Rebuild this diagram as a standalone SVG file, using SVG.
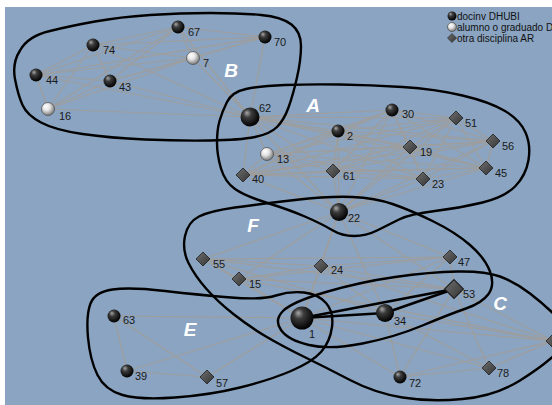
<svg xmlns="http://www.w3.org/2000/svg" xmlns:xlink="http://www.w3.org/1999/xlink" width="552" height="405" viewBox="0 0 552 405">
<style>
.e{stroke:#9e9e9e;stroke-width:1.25;fill:none}
.t{stroke:#000;stroke-width:2.4;fill:none}
.grp{fill:none;stroke:#000;stroke-width:2.4;stroke-linejoin:round}
.lbl{font-family:"Liberation Sans",Arial,sans-serif;font-size:11px;fill:#1a1a1a}
.leg{font-family:"Liberation Sans",Arial,sans-serif;font-size:10px;fill:#111}
.gl{font-family:"Liberation Sans",Arial,sans-serif;font-size:19px;font-style:italic;font-weight:bold;fill:#fff;text-anchor:middle}
.dk{fill:url(#gb)}
.wh{fill:url(#gw);stroke:#3a3a3a;stroke-width:0.6}
.dm{fill:url(#gd);stroke:#1e1e1e;stroke-width:0.8}
</style>
<defs>
<radialGradient id="gb" cx="0.42" cy="0.38" r="0.62" fx="0.33" fy="0.28">
<stop offset="0" stop-color="#a8a8a8"/>
<stop offset="0.35" stop-color="#3c3c3c"/>
<stop offset="1" stop-color="#000"/>
</radialGradient>
<radialGradient id="gw" cx="0.42" cy="0.38" r="0.62" fx="0.33" fy="0.28">
<stop offset="0" stop-color="#fff"/>
<stop offset="0.45" stop-color="#e6e6e6"/>
<stop offset="1" stop-color="#7a7a7a"/>
</radialGradient>
<linearGradient id="gd" x1="0" y1="0" x2="1" y2="1">
<stop offset="0" stop-color="#707070"/>
<stop offset="1" stop-color="#333"/>
</linearGradient>
<path id="dia" d="M0,-7L7,0L0,7L-7,0Z"/>
</defs>
<rect x="0" y="0" width="552" height="405" fill="#fff"/>
<rect x="5" y="7" width="547" height="398" fill="#8aa4c1"/>
<g id="connectors">
<g class="e">
<line x1="178" y1="27" x2="93" y2="45"/><line x1="178" y1="27" x2="265" y2="37"/><line x1="178" y1="27" x2="193" y2="58"/><line x1="178" y1="27" x2="110" y2="81"/><line x1="178" y1="27" x2="48" y2="109"/><line x1="178" y1="27" x2="36" y2="75"/><line x1="178" y1="27" x2="250" y2="117"/>
<line x1="93" y1="45" x2="36" y2="75"/><line x1="93" y1="45" x2="110" y2="81"/><line x1="93" y1="45" x2="48" y2="109"/><line x1="93" y1="45" x2="193" y2="58"/><line x1="93" y1="45" x2="265" y2="37"/><line x1="93" y1="45" x2="250" y2="117"/>
<line x1="265" y1="37" x2="193" y2="58"/><line x1="265" y1="37" x2="36" y2="75"/><line x1="265" y1="37" x2="110" y2="81"/><line x1="265" y1="37" x2="250" y2="117"/>
<line x1="193" y1="58" x2="36" y2="75"/><line x1="193" y1="58" x2="110" y2="81"/><line x1="193" y1="58" x2="48" y2="109"/><line x1="193" y1="58" x2="250" y2="117"/>
<line x1="36" y1="75" x2="110" y2="81"/><line x1="36" y1="75" x2="48" y2="109"/><line x1="36" y1="75" x2="250" y2="117"/>
<line x1="110" y1="81" x2="48" y2="109"/><line x1="110" y1="81" x2="250" y2="117"/><line x1="48" y1="109" x2="250" y2="117"/>
<line x1="250" y1="117" x2="392" y2="110"/><line x1="250" y1="117" x2="456" y2="118"/><line x1="250" y1="117" x2="338" y2="131"/><line x1="250" y1="117" x2="493" y2="141"/><line x1="250" y1="117" x2="410" y2="147"/><line x1="250" y1="117" x2="267" y2="154"/><line x1="250" y1="117" x2="486" y2="168"/><line x1="250" y1="117" x2="243" y2="175"/><line x1="250" y1="117" x2="333" y2="171"/><line x1="250" y1="117" x2="423" y2="179"/><line x1="250" y1="117" x2="339" y2="212"/>
<line x1="392" y1="110" x2="456" y2="118"/><line x1="392" y1="110" x2="338" y2="131"/><line x1="392" y1="110" x2="493" y2="141"/><line x1="392" y1="110" x2="410" y2="147"/><line x1="392" y1="110" x2="267" y2="154"/><line x1="392" y1="110" x2="486" y2="168"/><line x1="392" y1="110" x2="243" y2="175"/><line x1="392" y1="110" x2="333" y2="171"/><line x1="392" y1="110" x2="423" y2="179"/><line x1="392" y1="110" x2="339" y2="212"/>
<line x1="456" y1="118" x2="338" y2="131"/><line x1="456" y1="118" x2="493" y2="141"/><line x1="456" y1="118" x2="410" y2="147"/><line x1="456" y1="118" x2="267" y2="154"/><line x1="456" y1="118" x2="486" y2="168"/><line x1="456" y1="118" x2="243" y2="175"/><line x1="456" y1="118" x2="333" y2="171"/><line x1="456" y1="118" x2="423" y2="179"/><line x1="456" y1="118" x2="339" y2="212"/>
<line x1="338" y1="131" x2="493" y2="141"/><line x1="338" y1="131" x2="410" y2="147"/><line x1="338" y1="131" x2="267" y2="154"/><line x1="338" y1="131" x2="486" y2="168"/><line x1="338" y1="131" x2="243" y2="175"/><line x1="338" y1="131" x2="333" y2="171"/><line x1="338" y1="131" x2="423" y2="179"/><line x1="338" y1="131" x2="339" y2="212"/>
<line x1="493" y1="141" x2="410" y2="147"/><line x1="493" y1="141" x2="267" y2="154"/><line x1="493" y1="141" x2="486" y2="168"/><line x1="493" y1="141" x2="243" y2="175"/><line x1="493" y1="141" x2="333" y2="171"/><line x1="493" y1="141" x2="423" y2="179"/><line x1="493" y1="141" x2="339" y2="212"/>
<line x1="410" y1="147" x2="267" y2="154"/><line x1="410" y1="147" x2="486" y2="168"/><line x1="410" y1="147" x2="243" y2="175"/><line x1="410" y1="147" x2="333" y2="171"/><line x1="410" y1="147" x2="423" y2="179"/><line x1="410" y1="147" x2="339" y2="212"/>
<line x1="267" y1="154" x2="486" y2="168"/><line x1="267" y1="154" x2="243" y2="175"/><line x1="267" y1="154" x2="333" y2="171"/><line x1="267" y1="154" x2="423" y2="179"/><line x1="267" y1="154" x2="339" y2="212"/>
<line x1="486" y1="168" x2="243" y2="175"/><line x1="486" y1="168" x2="333" y2="171"/><line x1="486" y1="168" x2="423" y2="179"/><line x1="486" y1="168" x2="339" y2="212"/>
<line x1="243" y1="175" x2="333" y2="171"/><line x1="243" y1="175" x2="423" y2="179"/><line x1="243" y1="175" x2="339" y2="212"/>
<line x1="333" y1="171" x2="423" y2="179"/><line x1="333" y1="171" x2="339" y2="212"/><line x1="423" y1="179" x2="339" y2="212"/>
<line x1="339" y1="212" x2="203" y2="259"/><line x1="339" y1="212" x2="239" y2="279"/><line x1="339" y1="212" x2="321" y2="266"/><line x1="339" y1="212" x2="450" y2="257"/><line x1="339" y1="212" x2="454" y2="289"/><line x1="339" y1="212" x2="302" y2="318"/><line x1="339" y1="212" x2="385" y2="313"/>
<line x1="203" y1="259" x2="321" y2="266"/><line x1="203" y1="259" x2="450" y2="257"/><line x1="203" y1="259" x2="454" y2="289"/><line x1="203" y1="259" x2="239" y2="279"/><line x1="203" y1="259" x2="385" y2="313"/><line x1="203" y1="259" x2="302" y2="318"/>
<line x1="239" y1="279" x2="321" y2="266"/><line x1="239" y1="279" x2="450" y2="257"/><line x1="239" y1="279" x2="454" y2="289"/><line x1="239" y1="279" x2="302" y2="318"/>
<line x1="321" y1="266" x2="450" y2="257"/><line x1="321" y1="266" x2="454" y2="289"/><line x1="321" y1="266" x2="302" y2="318"/><line x1="321" y1="266" x2="385" y2="313"/>
<line x1="450" y1="257" x2="454" y2="289"/><line x1="450" y1="257" x2="302" y2="318"/><line x1="450" y1="257" x2="385" y2="313"/>
<line x1="302" y1="318" x2="400" y2="377"/><line x1="302" y1="318" x2="489" y2="368"/><line x1="302" y1="318" x2="553" y2="341"/>
<line x1="385" y1="313" x2="400" y2="377"/><line x1="385" y1="313" x2="489" y2="368"/><line x1="385" y1="313" x2="553" y2="341"/>
<line x1="454" y1="289" x2="400" y2="377"/><line x1="454" y1="289" x2="489" y2="368"/><line x1="454" y1="289" x2="553" y2="341"/>
<line x1="400" y1="377" x2="489" y2="368"/><line x1="400" y1="377" x2="553" y2="341"/><line x1="489" y1="368" x2="553" y2="341"/>
<line x1="321" y1="266" x2="553" y2="341"/><line x1="239" y1="279" x2="553" y2="341"/>
<line x1="114" y1="316" x2="127" y2="371"/><line x1="114" y1="316" x2="207" y2="377"/><line x1="114" y1="316" x2="302" y2="318"/>
<line x1="127" y1="371" x2="207" y2="377"/><line x1="127" y1="371" x2="302" y2="318"/><line x1="207" y1="377" x2="302" y2="318"/>
</g>
<g class="t">
<line x1="302" y1="318" x2="385" y2="313"/><line x1="302" y1="318" x2="454" y2="289"/><line x1="385" y1="313" x2="454" y2="289"/>
</g>
</g>
<g id="groups" class="grp">
<path id="group-B" d="M20,50.5 Q28,36 50,31 Q70,26 95,21.5 Q120,17 150,15 Q180,13 210,13 Q240,13 261,15 Q282,17 291.5,24.5 Q301,32 301,46 Q301,60 297,77.5 Q293,95 288.5,107.5 Q284,120 277,127 Q270,134 255,137 Q240,140 210,140.5 Q180,141 145,139.5 Q110,138 82.5,134 Q55,130 41,122.5 Q27,115 22.5,105 Q18,95 15,79 Q12,63 20,50.5 Z"/>
<path id="group-A" d="M227,102 Q232,92 246,89 Q260,86 285,85 Q310,84 340,84.5 Q370,85 402.5,87 Q435,89 462.5,95.5 Q490,102 505,111 Q520,120 525.5,132.5 Q531,145 528.5,160 Q526,175 515.5,186 Q505,197 482.5,202.5 Q460,208 435,211 Q410,214 399,219.5 Q388,225 377,230.5 Q366,236 354,236 Q342,236 332,230 Q322,224 306,217 Q290,210 267.5,203 Q245,196 235,189 Q225,182 221,168.5 Q217,155 217,142.5 Q217,130 219.5,121 Q222,112 227,102 Z"/>
<path id="group-FC" d="M185,236 Q188,222 199,216.5 Q210,211 235,207.5 Q260,204 295,200 Q330,196 352.5,197 Q375,198 392.5,204 Q410,210 432.5,221 Q455,232 470,245 Q485,258 490,271.5 Q495,285 488.5,294 Q482,303 466,308.5 Q450,314 422.5,325.5 Q395,337 362.5,343.5 Q330,350 309,345 Q288,340 281,330 Q274,320 283,311 Q292,302 326,292 Q360,282 395,277 Q430,272 457.5,271.5 Q485,271 500,276.5 Q515,282 530,293.5 Q545,305 560,320 Q575,335 560,350 Q545,365 520,380.5 Q495,396 462.5,399 Q430,402 402.5,397.5 Q375,393 351,380.5 Q327,368 304.5,357 Q282,346 266,336.5 Q250,327 234,314.5 Q218,302 206.5,289 Q195,276 188.5,263 Q182,250 185,236 Z"/>
<path id="group-E" d="M90.5,303.5 Q95,292 112.5,289.5 Q130,287 165,291 Q200,295 231,297.5 Q262,300 276,295.5 Q290,291 304,292.5 Q318,294 326,303 Q334,312 332,327 Q330,342 321,352 Q312,362 291,371 Q270,380 240,387.5 Q210,395 175,397.5 Q140,400 122.5,395 Q105,390 97.5,375 Q90,360 88,337.5 Q86,315 90.5,303.5 Z"/>
</g>
<g id="group-labels" class="gl">
<text x="231" y="77">B</text>
<text x="313" y="112">A</text>
<text x="253" y="232">F</text>
<text x="500" y="310">C</text>
<text x="190" y="336">E</text>
</g>
<g id="n67"><circle cx="178" cy="27" r="6.5" class="dk"/><text x="188" y="36" class="lbl">67</text></g>
<g id="n74"><circle cx="93" cy="45" r="6.5" class="dk"/><text x="103" y="54" class="lbl">74</text></g>
<g id="n70"><circle cx="265" cy="37" r="6.5" class="dk"/><text x="274" y="46" class="lbl">70</text></g>
<g id="n7"><circle cx="193" cy="58" r="6.5" class="wh"/><text x="203" y="67" class="lbl">7</text></g>
<g id="n44"><circle cx="36" cy="75" r="6.5" class="dk"/><text x="46" y="84" class="lbl">44</text></g>
<g id="n43"><circle cx="110" cy="81" r="6.5" class="dk"/><text x="119" y="91" class="lbl">43</text></g>
<g id="n16"><circle cx="48" cy="109" r="6.5" class="wh"/><text x="59" y="120" class="lbl">16</text></g>
<g id="n62"><circle cx="250" cy="117" r="9.5" class="dk"/><text x="259" y="112" class="lbl">62</text></g>
<g id="n30"><circle cx="392" cy="110" r="6.5" class="dk"/><text x="402" y="118" class="lbl">30</text></g>
<g id="n51"><use xlink:href="#dia" x="456" y="118" class="dm"/><text x="465" y="127" class="lbl">51</text></g>
<g id="n2"><circle cx="338" cy="131" r="6.5" class="dk"/><text x="347" y="140" class="lbl">2</text></g>
<g id="n56"><use xlink:href="#dia" x="493" y="141" class="dm"/><text x="502" y="150" class="lbl">56</text></g>
<g id="n19"><use xlink:href="#dia" x="410" y="147" class="dm"/><text x="420" y="156" class="lbl">19</text></g>
<g id="n13"><circle cx="267" cy="154" r="6.5" class="wh"/><text x="277" y="163" class="lbl">13</text></g>
<g id="n45"><use xlink:href="#dia" x="486" y="168" class="dm"/><text x="495" y="177" class="lbl">45</text></g>
<g id="n40"><use xlink:href="#dia" x="243" y="175" class="dm"/><text x="252" y="183" class="lbl">40</text></g>
<g id="n61"><use xlink:href="#dia" x="333" y="171" class="dm"/><text x="343" y="180" class="lbl">61</text></g>
<g id="n23"><use xlink:href="#dia" x="423" y="179" class="dm"/><text x="432" y="188" class="lbl">23</text></g>
<g id="n22"><circle cx="339" cy="212" r="9" class="dk"/><text x="348" y="222" class="lbl">22</text></g>
<g id="n55"><use xlink:href="#dia" x="203" y="259" class="dm"/><text x="213" y="268" class="lbl">55</text></g>
<g id="n24"><use xlink:href="#dia" x="321" y="266" class="dm"/><text x="331" y="274" class="lbl">24</text></g>
<g id="n47"><use xlink:href="#dia" x="450" y="257" class="dm"/><text x="458" y="266" class="lbl">47</text></g>
<g id="n15"><use xlink:href="#dia" x="239" y="279" class="dm"/><text x="249" y="288" class="lbl">15</text></g>
<g id="n53"><use xlink:href="#dia" transform="translate(454,289) scale(1.35)" class="dm"/><text x="463" y="298" class="lbl">53</text></g>
<g id="n1"><circle cx="302" cy="318" r="11.5" class="dk"/><text x="309" y="338" class="lbl">1</text></g>
<g id="n34"><circle cx="385" cy="313" r="9" class="dk"/><text x="394" y="325" class="lbl">34</text></g>
<g id="n63"><circle cx="114" cy="316" r="6.5" class="dk"/><text x="123" y="324" class="lbl">63</text></g>
<g id="n39"><circle cx="127" cy="371" r="6.5" class="dk"/><text x="135" y="380" class="lbl">39</text></g>
<g id="n57"><use xlink:href="#dia" x="207" y="377" class="dm"/><text x="216" y="387" class="lbl">57</text></g>
<g id="n72"><circle cx="400" cy="377" r="6.5" class="dk"/><text x="409" y="387" class="lbl">72</text></g>
<g id="n78"><use xlink:href="#dia" x="489" y="368" class="dm"/><text x="497" y="377" class="lbl">78</text></g>
<g id="nR"><use xlink:href="#dia" x="553" y="341" class="dm"/></g>
<g id="legend">
<circle cx="452" cy="16" r="4.5" class="dk"/><text x="457" y="20" class="leg">docinv DHUBI</text>
<circle cx="452" cy="27" r="4.5" class="wh"/><text x="457" y="31" class="leg">alumno o graduado D</text>
<use xlink:href="#dia" transform="translate(452,38) scale(0.65)" class="dm"/><text x="457" y="42" class="leg">otra disciplina AR</text>
</g>
</svg>
